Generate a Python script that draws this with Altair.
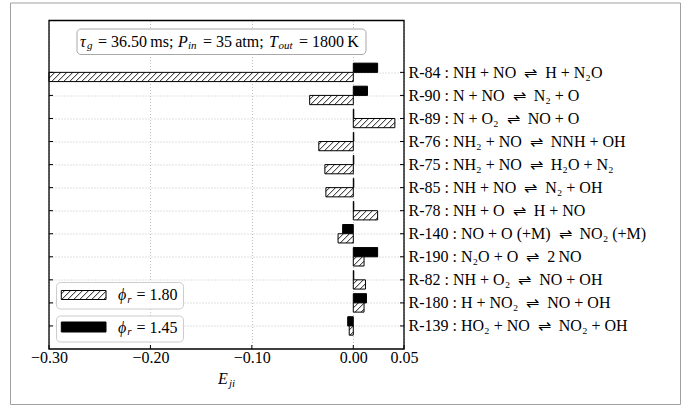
import json
import altair as alt
import pandas as pd

# Reactions, top to bottom, and their sensitivity coefficients E_ji
ARROW = "\u2002\u21CC\u2002"
reactions = [
    f"R-84 : NH + NO{ARROW}H + N\u2082O",
    f"R-90 : N + NO{ARROW}N\u2082 + O",
    f"R-89 : N + O\u2082{ARROW}NO + O",
    f"R-76 : NH\u2082 + NO{ARROW}NNH + OH",
    f"R-75 : NH\u2082 + NO{ARROW}H\u2082O + N\u2082",
    f"R-85 : NH + NO{ARROW}N\u2082 + OH",
    f"R-78 : NH + O{ARROW}H + NO",
    f"R-140 : NO + O (+M){ARROW}NO\u2082 (+M)",
    f"R-190 : N\u2082O + O{ARROW}2\u2009NO",
    f"R-82 : NH + O\u2082{ARROW}NO + OH",
    f"R-180 : H + NO\u2082{ARROW}NO + OH",
    f"R-139 : HO\u2082 + NO{ARROW}NO\u2082 + OH",
]
e_phi145 = [0.024, 0.014, 0.0005, 0.0005, 0.0005, 0.0005, 0.0005,
            -0.0105, 0.024, 0.0005, 0.013, -0.0055]
e_phi180 = [-0.30, -0.043, 0.041, -0.034, -0.028, -0.027, 0.024,
            -0.015, 0.0106, 0.012, 0.0106, -0.004]
x_ticks = [-0.30, -0.20, -0.10, 0.00, 0.05]

FONT = "Liberation Serif"
FS = 16
W, H = 355, 328.5
PAD_L, PAD_T = 49, 20.5
X_DOM = [-0.30, 0.05]
Y_DOM = [-1.0, 13.25]
BAR_H = 0.4

n = len(reactions)
df = pd.DataFrame({
    "reaction": reactions,
    "idx": list(range(n - 1, -1, -1)),
    "e145": e_phi145,
    "e180": e_phi180,
})
label_by_idx = list(reversed(reactions))

xs = alt.Scale(domain=X_DOM, nice=False, zero=False)
ys = alt.Scale(domain=Y_DOM, nice=False, zero=False)

# pixel helpers (absolute page pixels -> data units)
px_x = W / (X_DOM[1] - X_DOM[0])
px_y = H / (Y_DOM[1] - Y_DOM[0])


def to_x(p):
    return X_DOM[0] + (p - PAD_L) / px_x


def to_y(p):
    return Y_DOM[1] - (p - PAD_T) / px_y


# 45 degree "/" hatch in data units
K = px_y / px_x
STEP = 6.0 / px_x

one = pd.DataFrame({"k": [0]})

grid_style = dict(grid=True, gridDash=[1, 2], gridColor="#b0b0b0", gridWidth=0.8,
                  ticks=False, domain=False)

x_axis = alt.Axis(values=x_ticks, format=".2f", title=None, labelFlush=False,
                  labelPadding=0.5, labelOverlap=False, **grid_style)
y_axis = alt.Axis(values=list(range(n)), orient="right", title=None,
                  labelExpr=json.dumps(label_by_idx, ensure_ascii=False) + "[datum.value]",
                  labelAlign="left", labelBaseline="middle", labelPadding=4,
                  labelLimit=600, labelOverlap=False, labelBound=False, **grid_style)


def X(field):
    return alt.X(field, scale=xs, axis=x_axis)


def Y(field):
    return alt.Y(field, scale=ys, axis=y_axis)


base = alt.Chart(df).transform_calculate(
    zero="0",
    ytop=f"datum.idx + {BAR_H}",
    ybot=f"datum.idx - {BAR_H}",
)

bars145 = base.mark_rect(fill="black", stroke="black", strokeWidth=1).encode(
    x=X("e145:Q"), x2="zero:Q", y=Y("ytop:Q"), y2="idx:Q",
)
bars180 = base.mark_rect(fill="white", stroke="black", strokeWidth=1).encode(
    x=X("e180:Q"), x2="zero:Q", y=Y("idx:Q"), y2="ybot:Q",
)


def hatch(chart_data, x0, x1, y0, y1):
    return alt.Chart(chart_data).transform_calculate(
        hx0=x0, hx1=x1, hy0=y0, hy1=y1,
    ).transform_calculate(
        lo=f"min({K}*datum.hy0, {K}*datum.hy1)",
        hi=f"max({K}*datum.hy0, {K}*datum.hy1)",
    ).transform_calculate(
        js=f"sequence(floor((datum.hx0 - datum.hi)/{STEP}), ceil((datum.hx1 - datum.lo)/{STEP}) + 1)",
    ).transform_flatten(["js"], as_=["j"]).transform_calculate(
        c=f"datum.j*{STEP}",
    ).transform_calculate(
        s="max(datum.c + datum.lo, datum.hx0)",
        e="min(datum.c + datum.hi, datum.hx1)",
    ).transform_filter("datum.e - datum.s > 1e-7").transform_calculate(
        ys=f"(datum.s - datum.c)/{K}",
        ye=f"(datum.e - datum.c)/{K}",
    ).mark_rule(color="black", strokeWidth=0.9).encode(
        x=X("s:Q"), x2="e:Q", y=Y("ys:Q"), y2="ye:Q",
    )


hatch180 = hatch(df, "min(datum.e180, 0)", "max(datum.e180, 0)",
                 f"datum.idx - {BAR_H}", "datum.idx")

# inward tick marks
xt = alt.Chart(pd.DataFrame({"t": x_ticks})).mark_rule(color="black", strokeWidth=1).encode(
    x=X("t:Q"), y=alt.value(H), y2=alt.value(H - 4))
yt_df = pd.DataFrame({"t": list(range(n))})
ytl = alt.Chart(yt_df).mark_rule(color="black", strokeWidth=1).encode(
    y=Y("t:Q"), x=alt.value(0), x2=alt.value(4))
ytr = alt.Chart(yt_df).mark_rule(color="black", strokeWidth=1).encode(
    y=Y("t:Q"), x=alt.value(W - 4), x2=alt.value(W))

frame = alt.Chart(one).mark_rect(fillOpacity=0, stroke="black", strokeWidth=1.3).encode(
    x=alt.value(0), x2=alt.value(W), y=alt.value(0), y2=alt.value(H))

outer = alt.Chart(one).mark_rect(fillOpacity=0, stroke="#a0a0a0", strokeWidth=1).encode(
    x=alt.value(10.5 - PAD_L), x2=alt.value(680.5 - PAD_L),
    y=alt.value(3 - PAD_T), y2=alt.value(404.5 - PAD_T))


def box(x0, x1, y0, y1, stroke):
    return alt.Chart(one).mark_rect(fill="white", fillOpacity=0.85, stroke=stroke,
                                    strokeWidth=1, cornerRadius=4).encode(
        x=alt.value(x0 - PAD_L), x2=alt.value(x1 - PAD_L),
        y=alt.value(y0 - PAD_T), y2=alt.value(y1 - PAD_T))


def txt(s, x, y, size=FS, italic=False):
    return alt.Chart(one).mark_text(align="left", baseline="middle", font=FONT,
                                    fontSize=size, color="black",
                                    fontStyle="italic" if italic else "normal").encode(
        x=alt.value(x - PAD_L), y=alt.value(y - PAD_T), text=alt.value(s))


# condition box
title_y = 41.5
cond = [
    box(77, 366, 29, 54.5, "#a8a8a8"),
    txt("\u03C4", 80, title_y, italic=True),
    txt("g", 87, title_y + 4.5, size=11, italic=True),
    txt("= 36.50\u2009ms;", 98, title_y),
    txt("P", 178, title_y, italic=True),
    txt("in", 188, title_y + 4.5, size=11, italic=True),
    txt("= 35\u2009atm;", 203, title_y),
    txt("T", 269, title_y, italic=True),
    txt("out", 278.5, title_y + 4.5, size=11, italic=True),
    txt("= 1800\u2009K", 299, title_y),
]

# legend
lx0, lx1 = 61.3, 106
leg = [
    box(56.5, 183.5, 282.5, 309, "#cccccc"),
    box(56.5, 183.5, 316, 342, "#cccccc"),
    alt.Chart(one).mark_rect(fill="white", stroke="black", strokeWidth=1).encode(
        x=alt.value(lx0 - PAD_L), x2=alt.value(lx1 - PAD_L),
        y=alt.value(290.5 - PAD_T), y2=alt.value(299.5 - PAD_T)),
    hatch(one, str(to_x(lx0)), str(to_x(lx1)), str(to_y(299.5)), str(to_y(290.5))),
    alt.Chart(one).mark_rect(fill="black", stroke="black", strokeWidth=1).encode(
        x=alt.value(lx0 - PAD_L), x2=alt.value(lx1 - PAD_L),
        y=alt.value(322 - PAD_T), y2=alt.value(332 - PAD_T)),
    txt("\u03D5", 118, 295, italic=True),
    txt("r", 127.3, 299.5, size=11, italic=True),
    txt("= 1.80", 136.5, 295),
    txt("\u03D5", 118, 327.5, italic=True),
    txt("r", 127.3, 332, size=11, italic=True),
    txt("= 1.45", 136.5, 327.5),
]

# x-axis title E_ji
xtitle = [
    txt("E", 218, 379, italic=True),
    txt("ji", 229, 383.5, size=11, italic=True),
]

chart = alt.layer(
    bars145, bars180, hatch180, xt, ytl, ytr, frame, outer, *cond, *leg, *xtitle
).properties(
    width=W, height=H,
    autosize=alt.AutoSizeParams(type="none"),
    padding={"left": PAD_L, "top": PAD_T, "right": 689 - PAD_L - W, "bottom": 407 - PAD_T - H},
    background="white",
).configure_view(strokeWidth=0).configure_axis(
    labelFont=FONT, labelFontSize=FS, labelColor="black", labelOverlap=False
)

chart.save("out.html", embed_options={"renderer": "svg", "actions": False})
